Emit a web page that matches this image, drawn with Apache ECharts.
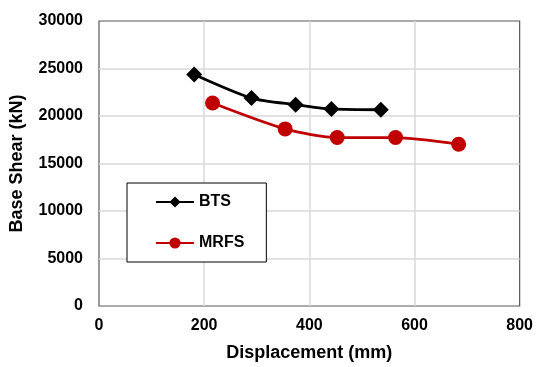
<!DOCTYPE html>
<html>
<head>
<meta charset="utf-8" />
<script src="https://cdn.jsdelivr.net/npm/echarts@6.0.0/dist/echarts.min.js"></script>
<style>
    body { margin: 0px; overflow: hidden; background: #fff; }
    #chart { width: 536px; height: 367px; }
</style>
</head>
<body>
<div id="chart"></div>
<script type="text/javascript">
    // BTS: displacement (mm) / base shear (kN)
    var btsDisp = [181, 290, 374, 442, 536];
    var btsShear = [24370, 21890, 21190, 20740, 20660];
    // MRFS
    var mrfsDisp = [216, 354, 453, 564, 684];
    var mrfsShear = [21370, 18640, 17730, 17730, 17030];

    function pairs(xs, ys) {
        var out = [];
        for (var i = 0; i < xs.length; i++) out.push([xs[i], ys[i]]);
        return out;
    }

    var chart = echarts.init(document.getElementById('chart'));
    var font = 'Liberation Sans, Arial';
    var labelFont = { fontFamily: font, fontWeight: 'bold', fontSize: 16, color: '#000' };
    var nameFont = { fontFamily: font, fontWeight: 'bold', fontSize: 18, color: '#000' };
    var gridLine = { showMinLine: false, showMaxLine: false, lineStyle: { color: '#d9d9d9', width: 1.5 } };

    chart.setOption({
        animation: false,
        grid: {
            left: 99, right: 14, top: 21, bottom: 60,
            show: true, borderColor: '#595959', borderWidth: 1.2
        },
        legend: {
            orient: 'vertical',
            left: 127, top: 183,
            backgroundColor: '#fff',
            borderColor: '#000', borderWidth: 1,
            padding: [11, 22, 11, 28],
            itemWidth: 38, itemHeight: 14, itemGap: 25,
            textStyle: labelFont,
            data: ['BTS', 'MRFS']
        },
        xAxis: {
            type: 'value', min: 0, max: 800, interval: 200,
            name: 'Displacement (mm)', nameLocation: 'middle', nameGap: 38,
            nameTextStyle: nameFont,
            axisLine: { show: false },
            axisTick: { show: false },
            axisLabel: Object.assign({ margin: 12 }, labelFont),
            splitLine: gridLine
        },
        yAxis: {
            type: 'value', min: 0, max: 30000, interval: 5000,
            name: 'Base Shear (kN)', nameLocation: 'middle', nameGap: 73,
            nameTextStyle: nameFont,
            axisLine: { show: false },
            axisTick: { show: false },
            axisLabel: Object.assign({ margin: 16, formatter: function (v) { return String(v); } }, labelFont),
            splitLine: gridLine
        },
        series: [
            {
                name: 'BTS', type: 'line', smooth: 0.25,
                data: pairs(btsDisp, btsShear),
                symbol: 'diamond', symbolSize: 16,
                lineStyle: { color: '#000', width: 2.8 },
                itemStyle: { color: '#000' }
            },
            {
                name: 'MRFS', type: 'line', smooth: 0.25,
                data: pairs(mrfsDisp, mrfsShear),
                symbol: 'circle', symbolSize: 15,
                lineStyle: { color: '#c00000', width: 2.8 },
                itemStyle: { color: '#c00000' }
            }
        ]
    });
</script>
</body>
</html>
